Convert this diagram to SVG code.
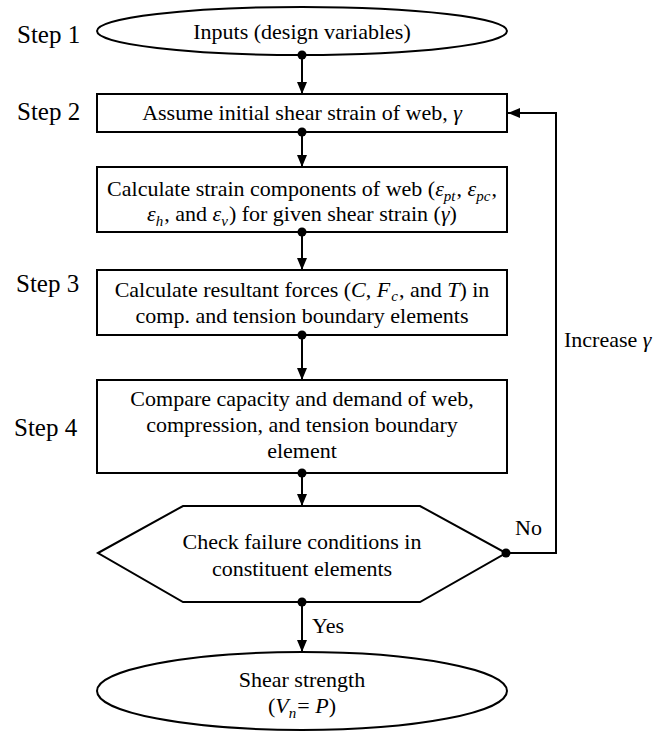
<svg xmlns="http://www.w3.org/2000/svg" width="665" height="732" viewBox="0 0 665 732" font-family="'Liberation Serif', Tinos, 'Times New Roman', Times, 'DejaVu Serif', serif">
<defs>
<style>
.shape{fill:#fff;stroke:#000;stroke-width:2}
.t{font-size:22px;fill:#000;text-anchor:middle}
.step{font-size:25px;fill:#000}
.lbl{font-size:22px;fill:#000}
.i{font-style:italic}
.sub{font-style:italic;font-size:15px}
.conn{fill:none;stroke:#000;stroke-width:2}
.dot{fill:#000}
</style>
<marker id="arr" markerUnits="userSpaceOnUse" markerWidth="12" markerHeight="12" viewBox="0 0 12 12" refX="12" refY="6" orient="auto">
<path d="M0,1 L12,6 L0,11 Z" fill="#000"/>
</marker>
</defs>
<rect width="665" height="732" fill="#fff"/>

<g id="step-labels">
<text class="step" x="17" y="43">Step 1</text>
<text class="step" x="17" y="120">Step 2</text>
<text class="step" x="16" y="292">Step 3</text>
<text class="step" x="14" y="436">Step 4</text>
</g>

<g id="node-inputs">
<ellipse class="shape" cx="302" cy="31" rx="205" ry="24"/>
<text class="t" x="302" y="39">Inputs (design variables)</text>
</g>

<g id="node-assume">
<rect class="shape" x="97" y="94" width="410" height="38"/>
<text class="t" x="302" y="120">Assume initial shear strain of web, <tspan class="i">γ</tspan></text>
</g>

<g id="node-strain">
<rect class="shape" x="97" y="167" width="410" height="65"/>
<text class="t" x="302" y="196">Calculate strain components of web (<tspan class="i">ε</tspan><tspan class="sub" dy="5">pt</tspan><tspan dx="1" dy="-5">, </tspan><tspan class="i">ε</tspan><tspan class="sub" dy="5">pc</tspan><tspan dx="1" dy="-5">,</tspan></text>
<text class="t" x="302" y="221"><tspan class="i">ε</tspan><tspan class="sub" dy="5">h</tspan><tspan dx="1" dy="-5">, and </tspan><tspan class="i">ε</tspan><tspan class="sub" dy="5">v</tspan><tspan dx="1" dy="-5">) for  given shear strain (</tspan><tspan class="i">γ</tspan>)</text>
</g>

<g id="node-forces">
<rect class="shape" x="97" y="270" width="410" height="65"/>
<text class="t" x="302" y="297">Calculate resultant forces (<tspan class="i">C</tspan>, <tspan class="i">F</tspan><tspan class="sub" dx="1" dy="4">c</tspan><tspan dx="1" dy="-4">, and </tspan><tspan class="i">T</tspan>) in</text>
<text class="t" x="302" y="323">comp. and tension boundary elements</text>
</g>

<g id="node-compare">
<rect class="shape" x="97" y="380" width="410" height="93"/>
<text class="t" x="302" y="406">Compare capacity and demand of web,</text>
<text class="t" x="302" y="432">compression, and tension boundary</text>
<text class="t" x="302" y="458">element</text>
</g>

<g id="node-check">
<polygon class="shape" points="98,553 183,506 420,506 506,553 420,602 183,602"/>
<text class="t" x="302" y="549">Check failure conditions in</text>
<text class="t" x="302" y="576">constituent elements</text>
</g>

<g id="node-strength">
<ellipse class="shape" cx="302" cy="691" rx="205" ry="39"/>
<text class="t" x="302" y="687">Shear strength</text>
<text class="t" x="302" y="713">(<tspan class="i">V</tspan><tspan class="sub" dy="5">n</tspan><tspan dx="1" dy="-5">= </tspan><tspan class="i">P</tspan>)</text>
</g>

<g id="connectors">
<line class="conn" x1="302" y1="55" x2="302" y2="94" marker-end="url(#arr)"/>
<circle class="dot" cx="302" cy="55" r="4.5"/>
<line class="conn" x1="302" y1="132" x2="302" y2="167" marker-end="url(#arr)"/>
<circle class="dot" cx="302" cy="132" r="4.5"/>
<line class="conn" x1="302" y1="232" x2="302" y2="270" marker-end="url(#arr)"/>
<circle class="dot" cx="302" cy="232" r="4.5"/>
<line class="conn" x1="302" y1="335" x2="302" y2="380" marker-end="url(#arr)"/>
<circle class="dot" cx="302" cy="335" r="4.5"/>
<line class="conn" x1="302" y1="473" x2="302" y2="506" marker-end="url(#arr)"/>
<circle class="dot" cx="302" cy="473" r="4.5"/>
<line class="conn" x1="302" y1="602" x2="302" y2="652" marker-end="url(#arr)"/>
<circle class="dot" cx="302" cy="602" r="4.5"/>
<polyline class="conn" points="506,553 556,553 556,113 508,113" marker-end="url(#arr)"/>
<circle class="dot" cx="506" cy="553" r="4.5"/>
<text class="lbl" x="312" y="633">Yes</text>
<text class="lbl" x="515" y="535">No</text>
<text class="lbl" x="564" y="347">Increase <tspan class="i">γ</tspan></text>
</g>
</svg>
